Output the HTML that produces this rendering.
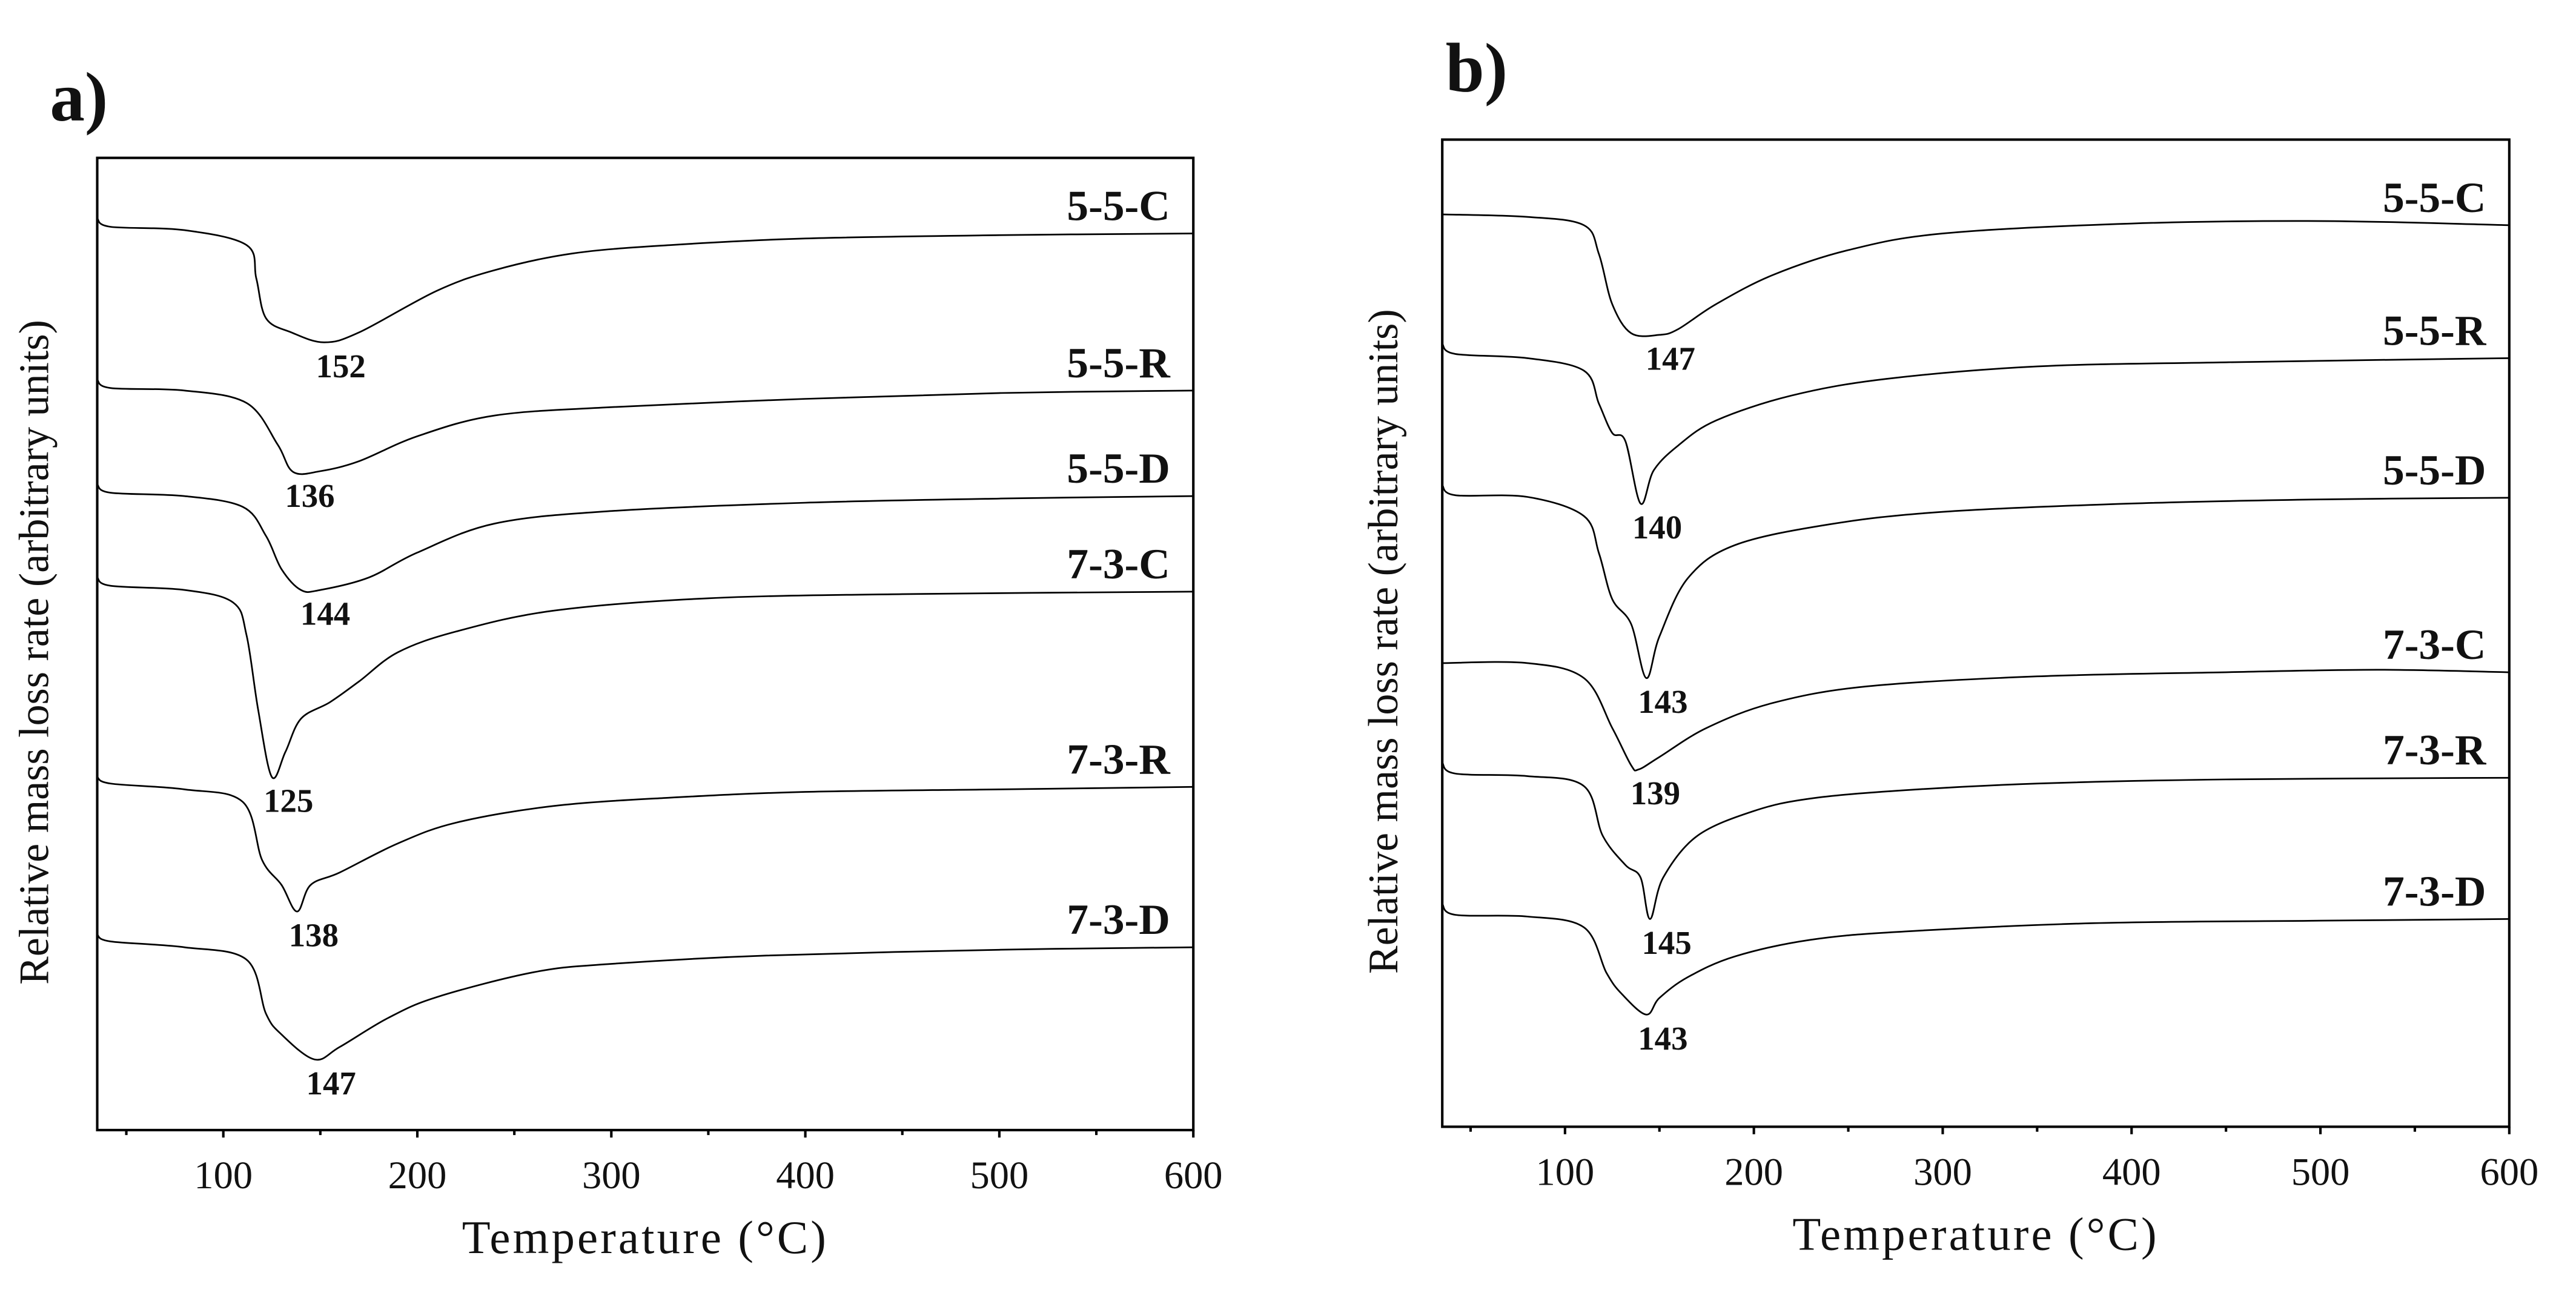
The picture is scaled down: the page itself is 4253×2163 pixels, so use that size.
<!DOCTYPE html>
<html><head><meta charset="utf-8"><style>
html,body{margin:0;padding:0;background:#fff;width:4253px;height:2163px;overflow:hidden}
svg text{font-family:"Liberation Serif",serif;fill:#111}
</style></head><body>
<svg id="fig" width="4253" height="2163" viewBox="0 0 4253 2163" xmlns="http://www.w3.org/2000/svg">
<rect width="4253" height="2163" fill="#fff"/>
<g id="pa" transform="translate(0,0) scale(1.372)"></g>
<g id="pb" transform="translate(2126,0) scale(1.372)"></g>
</svg>
<script>
// shared
const seriesNames = ["5-5-C","5-5-R","5-5-D","7-3-C","7-3-R","7-3-D"];
const xTicks = [100,200,300,400,500,600];
const xMinorTicks = [50,150,250,350,450,550];
// panel a data
const aT0=[35,42,80,112,117,122,135,152,170,210,240,280,330,400,500,600];
const aV0=[109.7,108.7,108.3,106.5,102.5,97.7,96.0,94.8,96.0,101.0,103.5,105.5,106.5,107.3,107.7,107.9];
const aT1=[35,42,80,112,128,136,150,170,200,240,300,400,500,600];
const aV1=[90.3,89.3,89.0,87.5,82.5,79.2,79.3,80.5,83.5,86.0,87.0,88.0,88.7,89.0];
const aT2=[35,42,80,110,122,130,140,150,175,200,240,300,400,500,600];
const aV2=[77.7,76.7,76.3,75.0,71.5,67.5,65.0,65.0,66.5,69.5,73.0,74.5,75.5,76.0,76.3];
const aT3=[35,42,80,105,112,118,125,132,140,155,170,190,220,270,350,450,600];
const aV3=[66.5,65.5,65.0,63.5,59.5,50.5,42.5,45.5,49.5,51.5,54.0,57.5,60.0,62.5,64.0,64.5,64.8];
const aT4=[35,42,80,110,120,130,138,145,160,190,220,270,330,400,500,600];
const aV4=[42.5,41.7,41.0,39.5,32.5,29.5,26.3,29.5,31.0,34.5,37.0,39.0,40.0,40.7,41.0,41.3];
const aT5=[35,42,80,112,122,130,147,160,185,210,260,300,380,500,600];
const aV5=[23.5,22.7,22.0,20.5,14.0,11.5,8.5,10.0,13.5,16.0,19.0,20.0,21.0,21.7,22.0];
const aPeaks=[152,136,144,125,138,147];
// panel b data
const bT0=[35,80,110,118,125,135,150,160,180,210,250,300,400,500,600];
const bV0=[109.8,109.5,108.5,105.0,99.0,95.5,95.3,96.0,99.0,102.5,105.5,107.5,108.7,109.0,108.5];
const bT1=[35,42,80,110,118,125,132,140,147,160,180,220,270,350,450,600];
const bV1=[94.2,93.0,92.5,91.0,87.0,83.5,82.5,75.0,79.0,82.0,85.0,88.0,90.0,91.5,92.0,92.5];
const bT2=[35,42,80,110,118,125,135,143,150,165,190,240,300,400,500,600];
const bV2=[77.2,76.0,75.8,73.5,69.0,63.5,60.5,54.0,59.0,66.0,70.0,72.5,74.0,75.0,75.5,75.7];
const bT3=[35,80,110,125,135,139,150,175,210,260,350,450,530,600];
const bV3=[55.8,55.8,54.0,48.0,43.5,43.0,44.5,48.0,51.0,53.0,54.2,54.7,55.0,54.7];
const bT4=[35,42,80,110,120,132,140,145,152,170,200,230,280,350,450,600];
const bV4=[43.8,42.5,42.2,41.0,35.0,31.5,30.0,25.0,30.0,35.0,38.0,39.5,40.5,41.3,41.8,42.0];
const bT5=[35,42,80,110,122,130,143,150,165,190,230,280,380,500,600];
const bV5=[26.8,25.5,25.3,24.0,18.5,16.0,13.5,15.5,18.0,20.5,22.5,23.5,24.5,24.8,25.0];
const bPeaks=[147,140,143,139,145,143];

const NS="http://www.w3.org/2000/svg";
function mk(tag,attrs,parent){const e=document.createElementNS(NS,tag);for(const k in attrs)e.setAttribute(k,attrs[k]);parent.appendChild(e);return e;}
function smooth(pts){let d="M"+pts[0][0].toFixed(1)+","+pts[0][1].toFixed(1);
 for(let i=0;i<pts.length-1;i++){const p0=pts[Math.max(0,i-1)],p1=pts[i],p2=pts[i+1],p3=pts[Math.min(pts.length-1,i+2)];
  const c1=[p1[0]+(p2[0]-p0[0])/6,p1[1]+(p2[1]-p0[1])/6],c2=[p2[0]-(p3[0]-p1[0])/6,p2[1]-(p3[1]-p1[1])/6];
  d+=" C"+c1[0].toFixed(1)+","+c1[1].toFixed(1)+" "+c2[0].toFixed(1)+","+c2[1].toFixed(1)+" "+p2[0].toFixed(1)+","+p2[1].toFixed(1);}
 return d;}

function panel(g,cfg,Ts,Vs,peaks){
 const L=cfg.L,R=cfg.R,Tp=cfg.T,B=cfg.B;
 const xs=t=>L+(t-35)/(600-35)*(R-L);
 const y=v=>B-v*10;
 const lab=mk("text",{x:cfg.labX,y:cfg.labY,"font-size":84,"font-weight":"bold"},g);lab.textContent=cfg.lab;
 
 
 const fr=mk("rect",{x:L,y:Tp,width:R-L,height:B-Tp,fill:"none",stroke:"#000","stroke-width":3},g);
 
 
 xTicks.forEach(t=>{const l=mk("line",{x1:xs(t),x2:xs(t),y1:B,y2:B+9,stroke:"#000","stroke-width":3},g);
  
  
  const tx=mk("text",{x:xs(t),y:B+70,"font-size":47,"text-anchor":"middle"},g);tx.textContent=t;
  
  });
 xMinorTicks.forEach(t=>{const l=mk("line",{x1:xs(t),x2:xs(t),y1:B,y2:B+6,stroke:"#000","stroke-width":3},g);
  
  });
 const xt=mk("text",{x:(L+R)/2,y:B+148,"font-size":56,"text-anchor":"middle","letter-spacing":3},g);xt.textContent="Temperature (°C)";
 
 
 const yt=mk("text",{x:0,y:0,"font-size":51,"text-anchor":"middle",transform:`translate(${cfg.ytX},${(Tp+B)/2+10}) rotate(-90)`},g);yt.textContent="Relative mass loss rate (arbitrary units)";
 
 
 Ts.forEach((T,i)=>{const V=Vs[i];const pts=T.map((t,j)=>[xs(t),y(V[j])]);
  const p=mk("path",{d:smooth(pts),fill:"none",stroke:"#000","stroke-width":2,"stroke-linejoin":"round"},g);
  
  
  const nm=mk("text",{x:R-28,y:y(V[V.length-1])-16,"font-size":52,"font-weight":"bold","text-anchor":"end"},g);nm.textContent=seriesNames[i];
  
  
  const mn=Math.min(...V);
  const pk=mk("text",{x:xs(peaks[i])+20,y:y(mn)+42,"font-size":40,"font-weight":"bold","text-anchor":"middle"},g);pk.textContent=peaks[i];
  
  
 });
}
panel(document.getElementById("pa"),{L:117,R:1436,T:190,B:1360,lab:"a)",labX:60,labY:145,ytX:58},
 [aT0,aT1,aT2,aT3,aT4,aT5],[aV0,aV1,aV2,aV3,aV4,aV5],aPeaks);
panel(document.getElementById("pb"),{L:186,R:1470,T:168,B:1356,lab:"b)",labX:190,labY:110,ytX:132},
 [bT0,bT1,bT2,bT3,bT4,bT5],[bV0,bV1,bV2,bV3,bV4,bV5],bPeaks);
</script>
</body></html>
